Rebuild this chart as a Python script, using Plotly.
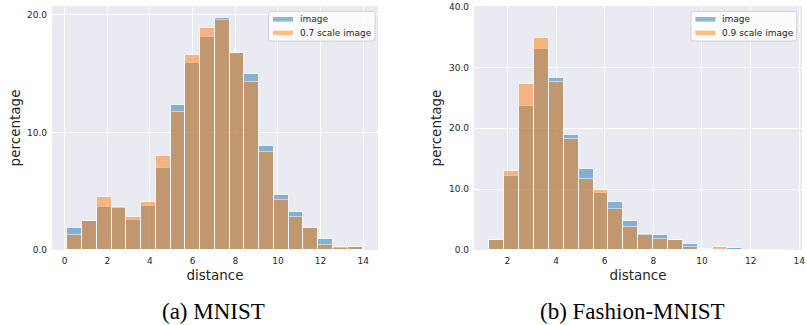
import plotly.graph_objects as go

# ---------------- data ----------------
# (a) MNIST: 20 bins
mnist_bin_start = 0.12
mnist_bin_width = 0.6925
mnist_image = [1.85, 2.50, 3.67, 3.67, 2.53, 3.76, 6.97, 12.29, 15.90, 18.12,
               19.72, 16.76, 14.94, 8.88, 4.69, 3.24, 1.85, 0.94, 0.20, 0.28]
mnist_scaled = [1.30, 2.45, 4.52, 3.53, 2.79, 4.10, 8.02, 11.72, 16.56, 18.86,
                19.57, 16.76, 14.31, 8.31, 4.24, 2.84, 1.85, 0.46, 0.25, 0.28]

# (b) Fashion-MNIST: 20 bins
fashion_bin_start = 1.26
fashion_bin_width = 0.6116
fashion_image = [1.65, 12.09, 23.74, 32.97, 28.19, 18.85, 13.30, 9.34, 7.97, 4.84,
                 2.64, 2.47, 1.70, 0.93, 0.15, 0.15, 0.38, 0.05, 0.0, 0.0]
fashion_scaled = [1.70, 13.02, 27.20, 34.90, 27.58, 18.24, 11.65, 9.89, 6.76, 3.79,
                  2.47, 1.87, 1.70, 0.44, 0.10, 0.44, 0.05, 0.03, 0.0, 0.0]

labels_a = ["image", "0.7 scale image"]
labels_b = ["image", "0.9 scale image"]
captions = ["(a) MNIST", "(b) Fashion-MNIST"]


def centers(start, width, n):
    return [start + (i + 0.5) * width for i in range(n)]


BLUE = "#1f77b4"
ORANGE = "#ff7f0e"
COLORS = [BLUE, ORANGE]
TXT = "#262626"
W, H = 807, 325


def px(x):
    return x / W


def py(y):
    return (H - y) / H


fig = go.Figure()

xa = centers(mnist_bin_start, mnist_bin_width, len(mnist_image))
xb = centers(fashion_bin_start, fashion_bin_width, len(fashion_image))

common = dict(opacity=0.5, marker_line=dict(color="white", width=1), showlegend=False)

fig.add_trace(go.Bar(x=xa, y=mnist_image, width=mnist_bin_width, name=labels_a[0],
                     marker_color=BLUE, xaxis="x", yaxis="y", **common))
fig.add_trace(go.Bar(x=xa, y=mnist_scaled, width=mnist_bin_width, name=labels_a[1],
                     marker_color=ORANGE, xaxis="x", yaxis="y", **common))
fig.add_trace(go.Bar(x=xb, y=fashion_image, width=fashion_bin_width, name=labels_b[0],
                     marker_color=BLUE, xaxis="x2", yaxis="y2", **common))
fig.add_trace(go.Bar(x=xb, y=fashion_scaled, width=fashion_bin_width, name=labels_b[1],
                     marker_color=ORANGE, xaxis="x2", yaxis="y2", **common))

tickfont = dict(family="DejaVu Sans", size=9, color=TXT)
titlefont = dict(family="DejaVu Sans", size=13.5, color=TXT)

axis_common = dict(showgrid=True, gridcolor="white", gridwidth=1, zeroline=False,
                   showline=False, ticks="", tickfont=tickfont, automargin=False)

ydom = [py(250), py(6)]

# ---------------- legends (drawn as boxes + text, matplotlib style) ----------------
shapes = []
annotations = []
legend_boxes = [(268.5, 375, labels_a), (691, 796.7, labels_b)]
for left, right, labs in legend_boxes:
    top, bottom = 11.3, 41
    r = 2.5
    path = (f"M {px(left + r)},{py(top)} L {px(right - r)},{py(top)} "
            f"Q {px(right)},{py(top)} {px(right)},{py(top + r)} "
            f"L {px(right)},{py(bottom - r)} Q {px(right)},{py(bottom)} {px(right - r)},{py(bottom)} "
            f"L {px(left + r)},{py(bottom)} Q {px(left)},{py(bottom)} {px(left)},{py(bottom - r)} "
            f"L {px(left)},{py(top + r)} Q {px(left)},{py(top)} {px(left + r)},{py(top)} Z")
    shapes.append(dict(type="path", xref="paper", yref="paper", path=path,
                       fillcolor="rgba(255,255,255,0.8)", line=dict(color="rgba(204,204,204,0.8)", width=1)))
    for i, lab in enumerate(labs):
        cy = 19.3 + i * 13.6
        shapes.append(dict(type="rect", xref="paper", yref="paper",
                           x0=px(left + 4.5), x1=px(left + 24.5), y0=py(cy + 2.3), y1=py(cy - 2.3),
                           fillcolor=COLORS[i], opacity=0.5, line=dict(width=0)))
        annotations.append(dict(text=lab, x=px(left + 29), y=py(cy), xref="paper", yref="paper",
                                showarrow=False, xanchor="left", yanchor="middle",
                                font=dict(family="DejaVu Sans", size=9, color=TXT)))

for cap, cx in zip(captions, [213, 632]):
    annotations.append(dict(text=cap, x=px(cx), y=py(311.5), xref="paper", yref="paper",
                            showarrow=False, font=dict(family="Liberation Serif", size=23, color="black"),
                            xanchor="center", yanchor="middle"))

fig.update_layout(
    width=W, height=H,
    margin=dict(l=0, r=0, t=0, b=0),
    paper_bgcolor="white",
    plot_bgcolor="#EAEAF2",
    barmode="overlay",
    bargap=0,
    showlegend=False,
    xaxis=dict(domain=[px(52), px(378)], range=[-0.595, 14.695], tickvals=list(range(0, 15, 2)),
               title=dict(text="distance", font=titlefont, standoff=5), anchor="y",
               ticklabelstandoff=4, **axis_common),
    yaxis=dict(domain=ydom, range=[0, 20.75], tickvals=[0, 10, 20], tickformat=".1f",
               title=dict(text="percentage", font=titlefont, standoff=3), anchor="x",
               ticklabelstandoff=4, **axis_common),
    xaxis2=dict(domain=[px(474), px(802)], range=[0.63, 14.11], tickvals=list(range(2, 15, 2)),
                title=dict(text="distance", font=titlefont, standoff=5), anchor="y2",
                ticklabelstandoff=4, **axis_common),
    yaxis2=dict(domain=ydom, range=[0, 40.1], tickvals=[0, 10, 20, 30, 40], tickformat=".1f",
                title=dict(text="percentage", font=titlefont, standoff=4), anchor="x2",
                ticklabelstandoff=4, **axis_common),
    shapes=shapes,
    annotations=annotations,
)

fig.write_html("out.html", config={"displayModeBar": False},
               post_script="document.body.style.margin='0';document.body.style.padding='0';"
                           "document.body.style.overflow='hidden';")
